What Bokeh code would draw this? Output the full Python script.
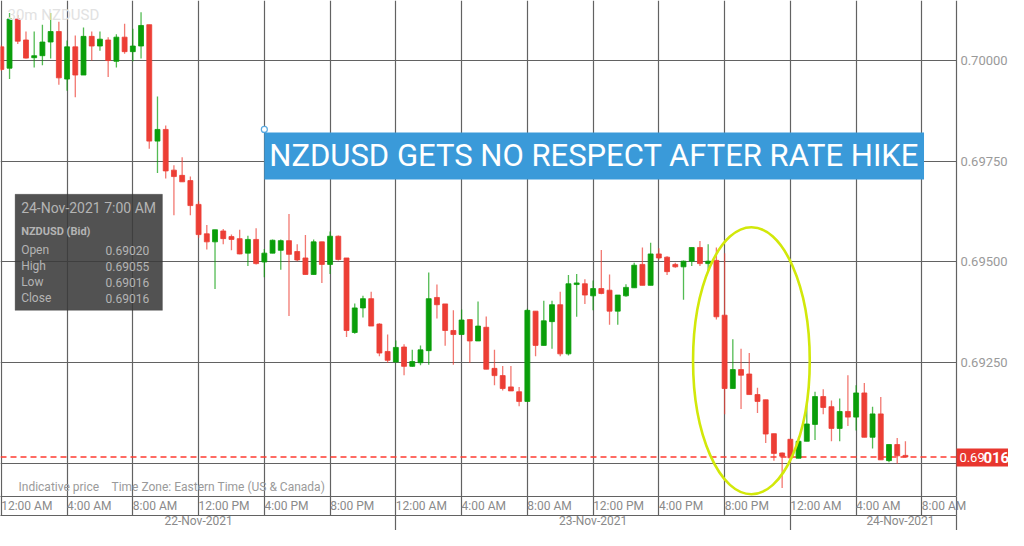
import pandas as pd
from bokeh.plotting import figure
from bokeh.models import FixedTicker, LinearAxis, Span, Label, BoxAnnotation, Range1d, ColumnDataSource
from bokeh.embed import file_html
from bokeh.resources import INLINE

# ---------------- data (30-minute NZDUSD candles, 22-Nov-2021 00:00 .. 24-Nov-2021 07:00 ET) ----------------
start = pd.Timestamp("2021-11-22 00:00")
open_ = [0.70034, 0.69981, 0.70103, 0.70051, 0.70007, 0.70012, 0.70046, 0.70072, 0.69954, 0.70034,
         0.69964, 0.70060, 0.70036, 0.70051, 0.69998, 0.70058, 0.70022, 0.70036, 0.70089, 0.69800,
         0.69829, 0.69728, 0.69715, 0.69702, 0.69643, 0.69570, 0.69550, 0.69577, 0.69563, 0.69558,
         0.69522, 0.69556, 0.69500, 0.69522, 0.69529, 0.69553, 0.69526, 0.69510, 0.69469, 0.69550,
         0.69494, 0.69564, 0.69510, 0.69325, 0.69386, 0.69409, 0.69346, 0.69278, 0.69252, 0.69289,
         0.69241, 0.69250, 0.69280, 0.69412, 0.69396, 0.69330, 0.69320, 0.69357, 0.69304, 0.69338,
         0.69236, 0.69218, 0.69190, 0.69178, 0.69154, 0.69378, 0.69293, 0.69352, 0.69394, 0.69272,
         0.69444, 0.69446, 0.69416, 0.69434, 0.69430, 0.69378, 0.69416, 0.69436, 0.69494, 0.69442,
         0.69520, 0.69512, 0.69494, 0.69488, 0.69502, 0.69536, 0.69496, 0.69504, 0.69368, 0.69186,
         0.69233, 0.69222, 0.69171, 0.69158, 0.69074, 0.69026, 0.69060, 0.69013, 0.69055, 0.69097,
         0.69166, 0.69141, 0.69087, 0.69129, 0.69115, 0.69175, 0.69065, 0.69123, 0.69007, 0.69047,
         0.69020]
high = [0.70038, 0.70118, 0.70113, 0.70072, 0.70072, 0.70089, 0.70118, 0.70096, 0.70050, 0.70062,
        0.70082, 0.70072, 0.70072, 0.70058, 0.70065, 0.70091, 0.70079, 0.70120, 0.70089, 0.69911,
        0.69839, 0.69740, 0.69760, 0.69712, 0.69651, 0.69592, 0.69580, 0.69582, 0.69568, 0.69580,
        0.69565, 0.69584, 0.69532, 0.69556, 0.69556, 0.69619, 0.69544, 0.69567, 0.69556, 0.69550,
        0.69576, 0.69566, 0.69510, 0.69397, 0.69416, 0.69426, 0.69348, 0.69320, 0.69305, 0.69296,
        0.69282, 0.69293, 0.69474, 0.69444, 0.69396, 0.69380, 0.69382, 0.69358, 0.69402, 0.69365,
        0.69282, 0.69242, 0.69242, 0.69190, 0.69384, 0.69378, 0.69404, 0.69404, 0.69426, 0.69468,
        0.69470, 0.69457, 0.69454, 0.69530, 0.69469, 0.69418, 0.69445, 0.69498, 0.69536, 0.69548,
        0.69534, 0.69514, 0.69498, 0.69504, 0.69536, 0.69552, 0.69544, 0.69536, 0.69522, 0.69308,
        0.69285, 0.69274, 0.69188, 0.69158, 0.69074, 0.69027, 0.69061, 0.69066, 0.69158, 0.69178,
        0.69184, 0.69156, 0.69161, 0.69219, 0.69194, 0.69200, 0.69141, 0.69165, 0.69047, 0.69063,
        0.69055]
low = [0.69974, 0.69954, 0.70041, 0.70005, 0.69983, 0.69988, 0.70005, 0.69940, 0.69925, 0.69909,
       0.69964, 0.70000, 0.70024, 0.69959, 0.69983, 0.70017, 0.69998, 0.70005, 0.69781, 0.69721,
       0.69707, 0.69616, 0.69699, 0.69616, 0.69560, 0.69531, 0.69433, 0.69544, 0.69529, 0.69519,
       0.69490, 0.69494, 0.69462, 0.69522, 0.69481, 0.69366, 0.69502, 0.69469, 0.69469, 0.69448,
       0.69470, 0.69504, 0.69314, 0.69322, 0.69362, 0.69341, 0.69266, 0.69250, 0.69250, 0.69219,
       0.69240, 0.69244, 0.69245, 0.69360, 0.69292, 0.69245, 0.69320, 0.69250, 0.69304, 0.69234,
       0.69194, 0.69181, 0.69180, 0.69142, 0.69154, 0.69266, 0.69293, 0.69285, 0.69266, 0.69268,
       0.69364, 0.69396, 0.69380, 0.69420, 0.69344, 0.69344, 0.69414, 0.69436, 0.69442, 0.69442,
       0.69506, 0.69468, 0.69486, 0.69406, 0.69490, 0.69490, 0.69476, 0.69357, 0.69122, 0.69186,
       0.69135, 0.69171, 0.69125, 0.69051, 0.69007, 0.68939, 0.69003, 0.69013, 0.69055, 0.69058,
       0.69122, 0.69055, 0.69055, 0.69093, 0.69082, 0.69065, 0.69037, 0.69009, 0.69003, 0.68999,
       0.69016]
close = [0.69978, 0.70103, 0.70048, 0.70006, 0.70012, 0.70046, 0.70072, 0.69957, 0.70034, 0.69964,
         0.70060, 0.70036, 0.70053, 0.70000, 0.70058, 0.70022, 0.70036, 0.70087, 0.69800, 0.69829,
         0.69726, 0.69712, 0.69699, 0.69640, 0.69568, 0.69550, 0.69580, 0.69558, 0.69556, 0.69520,
         0.69556, 0.69496, 0.69522, 0.69554, 0.69553, 0.69519, 0.69505, 0.69469, 0.69550, 0.69494,
         0.69564, 0.69506, 0.69330, 0.69386, 0.69409, 0.69341, 0.69274, 0.69256, 0.69288, 0.69241,
         0.69253, 0.69282, 0.69409, 0.69394, 0.69330, 0.69320, 0.69356, 0.69304, 0.69341, 0.69234,
         0.69218, 0.69186, 0.69180, 0.69154, 0.69380, 0.69293, 0.69354, 0.69394, 0.69272, 0.69446,
         0.69448, 0.69418, 0.69434, 0.69422, 0.69378, 0.69418, 0.69437, 0.69492, 0.69442, 0.69520,
         0.69510, 0.69476, 0.69488, 0.69502, 0.69536, 0.69496, 0.69502, 0.69364, 0.69186, 0.69233,
         0.69219, 0.69171, 0.69154, 0.69073, 0.69025, 0.69018, 0.69014, 0.69055, 0.69098, 0.69166,
         0.69139, 0.69087, 0.69129, 0.69115, 0.69175, 0.69065, 0.69123, 0.69009, 0.69047, 0.69019,
         0.69016]

last_price = 0.69016
time_tick_labels = ["12:00 AM", "4:00 AM", "8:00 AM", "12:00 PM", "4:00 PM", "8:00 PM",
                    "12:00 AM", "4:00 AM", "8:00 AM", "12:00 PM", "4:00 PM", "8:00 PM",
                    "12:00 AM", "4:00 AM", "8:00 AM"]
date_labels = ["22-Nov-2021", "23-Nov-2021", "24-Nov-2021"]
price_ticks = [0.69000, 0.69250, 0.69500, 0.69750, 0.70000]
price_tick_labels = ["", "0.69250", "0.69500", "0.69750", "0.70000"]
title_text = "NZDUSD GETS NO RESPECT AFTER RATE HIKE"
info_title = "24-Nov-2021 7:00 AM"
info_symbol = "NZDUSD (Bid)"
info_names = ["Open", "High", "Low", "Close"]
info_values = ["0.69020", "0.69055", "0.69016", "0.69016"]

# ---------------- derived ----------------
times = pd.date_range(start, periods=len(open_), freq="30min")
hours = list(((times - start) / pd.Timedelta(hours=1)).to_numpy())
INC, DEC = "#0a9e0a", "#ec3e35"
TAG = "#e8362e"
src = ColumnDataSource(dict(
    x=hours, open=open_, high=high, low=low, close=close,
    top=[max(o, c) for o, c in zip(open_, close)],
    bottom=[min(o, c) for o, c in zip(open_, close)],
    color=[INC if c > o else DEC for o, c in zip(open_, close)],
))

X0, X1 = -0.05, 58.1        # visible time window (hours after 22-Nov 00:00)
XR = 61.27                  # right end of canvas incl. price-label strip
Y0, Y1 = 0.68918, 0.70149
GRID = "#626262"
FONT = "Roboto"

p = figure(width=1008, height=530, x_range=Range1d(X0, XR), y_range=Range1d(Y0, Y1),
           output_backend="svg", toolbar_location=None, y_axis_location="right",
           min_border=0, min_border_left=0, min_border_right=0, min_border_top=0, min_border_bottom=0)
p.outline_line_color = None
p.background_fill_color = "white"
p.border_fill_color = "white"

boundaries = [4 * k for k in range(len(time_tick_labels))]
p.xgrid.ticker = FixedTicker(ticks=boundaries)
p.xgrid.grid_line_color = GRID
p.xgrid.grid_line_width = 1.2
p.ygrid.grid_line_color = GRID
p.ygrid.grid_line_width = 1.2

# white strip behind the price labels (hides grid lines there)
p.add_layout(BoxAnnotation(left=X1, right=XR, fill_color="white", fill_alpha=1.0,
                           line_color=None, level="underlay"))

# time-of-day axis (labels sit just right of each 4h boundary; minor ticks draw the cell separators)
label_pos = [b + (1.55 if lab.startswith("12") else 1.35) for b, lab in zip(boundaries, time_tick_labels)]
xa = p.xaxis[0]
xa.ticker = FixedTicker(ticks=label_pos, minor_ticks=boundaries + [X1])
xa.major_label_overrides = {pos: lab for pos, lab in zip(label_pos, time_tick_labels)}
xa.bounds = (X0, X1 + 0.01)
xa.major_tick_in = 0
xa.major_tick_out = 0
xa.minor_tick_in = 0
xa.minor_tick_out = 19
xa.minor_tick_line_color = GRID
xa.minor_tick_line_width = 1.2
xa.axis_line_color = GRID
xa.axis_line_width = 1.2
xa.major_label_standoff = -17
xa.major_label_text_font = FONT
xa.major_label_text_font_size = "12px"
xa.major_label_text_color = "#8a8a8a"

# date axis
date_pos = [12, 36, 54.7]
xb = LinearAxis(ticker=FixedTicker(ticks=date_pos, minor_ticks=[24, 48, X1]),
                major_label_overrides={pos: lab for pos, lab in zip(date_pos, date_labels)})
xb.bounds = (X0, X1 + 0.01)
xb.major_tick_in = 0
xb.major_tick_out = 0
xb.minor_tick_in = 0
xb.minor_tick_out = 15
xb.minor_tick_line_color = GRID
xb.minor_tick_line_width = 1.2
xb.axis_line_color = GRID
xb.axis_line_width = 1.2
xb.major_label_standoff = -17
xb.major_label_text_font = FONT
xb.major_label_text_font_size = "12px"
xb.major_label_text_color = "#8a8a8a"
p.add_layout(xb, "below")

# price axis drawn at the chart's right edge (a thick red minor tick forms the last-price tag)
ya = p.yaxis[0]
ya.fixed_location = X1
ya.ticker = FixedTicker(ticks=price_ticks, minor_ticks=[last_price])
ya.major_label_overrides = {t: lab for t, lab in zip(price_ticks, price_tick_labels)}
ya.major_tick_in = 0
ya.major_tick_out = 0
ya.minor_tick_in = 0
ya.minor_tick_out = 53
ya.minor_tick_line_color = TAG
ya.minor_tick_line_width = 18
ya.axis_line_color = GRID
ya.axis_line_width = 1.2
ya.major_label_standoff = -49
ya.major_label_text_font = FONT
ya.major_label_text_font_size = "13px"
ya.major_label_text_color = "#9a9a9a"

# candles
p.segment(x0="x", y0="low", x1="x", y1="high", source=src, line_color="color", line_alpha=0.7, line_width=1.3)
p.vbar(x="x", width=0.3, top="top", bottom="bottom", source=src, fill_color="color", line_color="color", line_width=0.8)

# last price line and tag text
p.add_layout(Span(location=last_price, dimension="width", line_color="#ff3b30", line_dash="6 4",
                  line_width=1.5, level="underlay"))
p.add_layout(Label(x=X1, y=last_price, x_offset=3, text="0.69", text_baseline="middle",
                   text_color="white", text_font=FONT, text_font_size="13px"))
p.add_layout(Label(x=X1, y=last_price, x_offset=27, text="016", text_baseline="middle",
                   text_color="white", text_font=FONT, text_font_size="15px", text_font_style="bold"))

# highlight ellipse
p.ellipse(x=[45.63], y=[0.69255], width=[7.1], height=[0.006634],
          fill_color=None, line_color="#d2e80a", line_width=2.6)

# headline box
p.scatter(x=[16.0], y=[0.69829], size=6, marker="circle", fill_color="white", line_color="#5aa9e0", line_width=1.2)
p.add_layout(Label(x=16.0, y=0.69829, y_offset=-3, text=title_text, text_baseline="top",
                   text_color="white", text_font=FONT, text_font_size="31px",
                   background_fill_color="#3a9ad9", padding=5))

# info box
p.add_layout(BoxAnnotation(left=0.84, right=9.8, top=0.69668, bottom=0.69380,
                           fill_color="#3a3a3a", fill_alpha=0.88, line_color="#2c2c2c", line_width=1))
p.add_layout(Label(x=0.84, y=0.69668, x_offset=6, y_offset=-14, text=info_title, text_baseline="middle",
                   text_color="#b4b4b4", text_font=FONT, text_font_size="14px"))
p.add_layout(Label(x=0.84, y=0.69668, x_offset=6, y_offset=-37, text=info_symbol, text_baseline="middle",
                   text_color="#b4b4b4", text_font=FONT, text_font_size="11px", text_font_style="bold"))
for k, (nm, vl) in enumerate(zip(info_names, info_values)):
    dy = -(56 + 16 * k)
    p.add_layout(Label(x=0.84, y=0.69668, x_offset=6, y_offset=dy, text=nm, text_baseline="middle",
                       text_color="#b4b4b4", text_font=FONT, text_font_size="12px"))
    p.add_layout(Label(x=0.84, y=0.69668, x_offset=134, y_offset=dy, text=vl, text_baseline="middle",
                       text_align="right", text_color="#b4b4b4", text_font=FONT, text_font_size="12px"))

# watermark and footnotes
p.add_layout(Label(x=X0, y=Y1, x_offset=7, y_offset=-5, text="30m NZDUSD", text_baseline="top",
                   text_color="#e2e2e2", text_font=FONT, text_font_size="15px"))
p.add_layout(Label(x=X0, y=Y0, x_offset=18, y_offset=3, text="Indicative price", text_baseline="bottom",
                   text_color="#9a9a9a", text_font=FONT, text_font_size="12px"))
p.add_layout(Label(x=X0, y=Y0, x_offset=111, y_offset=3, text="Time Zone: Eastern Time (US & Canada)",
                   text_baseline="bottom", text_color="#9a9a9a", text_font=FONT, text_font_size="12px"))

open("out.html", "w").write(file_html(p, INLINE))
